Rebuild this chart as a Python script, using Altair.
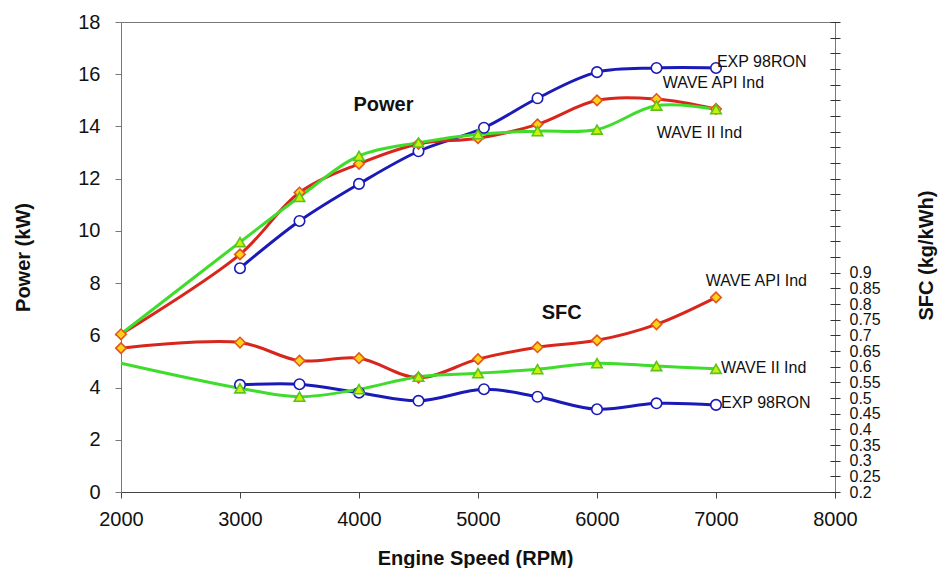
import altair as alt
import pandas as pd

SERIES = ["EXP 98RON", "WAVE API Ind", "WAVE II Ind"]
LINE_COLORS = ["#1a1ab8", "#d8261c", "#3fdc2c"]
MARK_SHAPES = ["circle", "diamond", "triangle-up"]
MARK_FILLS = ["#ffffff", "#ffd21a", "#c6f20a"]
MARK_STROKES = ["#1a1ab8", "#e2561a", "#5cc21e"]

# Engine speed (RPM)
rpm_exp = [3000, 3500, 4000, 4500, 5050, 5500, 6000, 6500, 7000]
rpm_wave = [2000, 3000, 3500, 4000, 4500, 5000, 5500, 6000, 6500, 7000]

# Power (kW)
power_exp = [8.57, 10.38, 11.8, 13.05, 13.95, 15.08, 16.08, 16.24, 16.24]
power_api = [6.04, 9.1, 11.47, 12.57, 13.33, 13.55, 14.08, 15.0, 15.05, 14.67]
power_ii = [6.05, 9.57, 11.3, 12.87, 13.38, 13.7, 13.82, 13.88, 14.8, 14.66]

# SFC (kg/kWh)
sfc_exp = [0.542, 0.544, 0.517, 0.491, 0.528, 0.504, 0.464, 0.483, 0.478]
sfc_api = [0.659, 0.677, 0.619, 0.627, 0.565, 0.624, 0.662, 0.684, 0.735, 0.821]
sfc_ii = [0.611, 0.531, 0.504, 0.528, 0.568, 0.579, 0.592, 0.611, 0.602, 0.593]

# Annotations
power_label_rpm = [7008, 6552, 6502]
power_label_val = [16.48, 15.65, 13.76]
sfc_label_rpm = [7042, 6913, 7042]
sfc_label_val = [0.483, 0.874, 0.595]
group_titles = ["Power", "SFC"]
group_title_rpm = [4206, 5703]
group_title_val = [14.84, 0.770]

x_ticks = [2000, 3000, 4000, 5000, 6000, 7000, 8000]
power_ticks = [0, 2, 4, 6, 8, 10, 12, 14, 16, 18]
sfc_ticks = [round(0.2 + 0.05 * i, 2) for i in range(31)]


def frame(rpm, vals, name):
    return pd.DataFrame({"rpm": rpm, "value": vals, "series": name})


power_df = pd.concat([frame(rpm_exp, power_exp, SERIES[0]),
                      frame(rpm_wave, power_api, SERIES[1]),
                      frame(rpm_wave, power_ii, SERIES[2])], ignore_index=True)
sfc_df = pd.concat([frame(rpm_exp, sfc_exp, SERIES[0]),
                    frame(rpm_wave, sfc_api, SERIES[1]),
                    frame(rpm_wave, sfc_ii, SERIES[2])], ignore_index=True)
power_lab = pd.DataFrame({"rpm": power_label_rpm, "value": power_label_val, "text": SERIES})
sfc_lab = pd.DataFrame({"rpm": sfc_label_rpm, "value": sfc_label_val, "text": SERIES})
power_tt = pd.DataFrame({"rpm": [group_title_rpm[0]], "value": [group_title_val[0]], "text": [group_titles[0]]})
sfc_tt = pd.DataFrame({"rpm": [group_title_rpm[1]], "value": [group_title_val[1]], "text": [group_titles[1]]})

FONT = "Liberation Sans"

X = alt.X("rpm:Q",
          scale=alt.Scale(domain=[2000, 8000], nice=False, zero=False),
          axis=alt.Axis(values=x_ticks, format="d", title="Engine Speed (RPM)", grid=False,
                        tickSize=6, tickColor="#444", domainColor="#444", labelFontSize=20,
                        labelPadding=11, labelFlush=False, labelColor="#111", labelFont=FONT,
                        titleFont=FONT, titleFontSize=20, titleFontWeight="bold",
                        titleColor="#111", titleBaseline="alphabetic", titleY=72, titleX=354))

YP = alt.Y("value:Q",
           scale=alt.Scale(domain=[0, 18], nice=False, zero=False),
           axis=alt.Axis(orient="left", values=power_ticks, format="d", title="Power (kW)",
                         grid=False, tickSize=6, tickColor="#777", domainColor="#777",
                         labelFontSize=20, labelPadding=15, labelColor="#111", labelFont=FONT,
                         titleFont=FONT, titleFontSize=20, titleFontWeight="bold",
                         titleColor="#111", titleAngle=270, titleBaseline="alphabetic",
                         titleAlign="center", titleX=-92, titleY=235))

YS = alt.Y("value:Q",
           scale=alt.Scale(domain=[0.2, 1.7], nice=False, zero=False),
           axis=alt.Axis(orient="right", values=sfc_ticks, format=".2~f",
                         labelExpr="datum.value <= 0.9001 ? datum.label : ''",
                         title="SFC (kg/kWh)", grid=False, domain=False, offset=-5,
                         tickSize=10, tickColor="#333", labelFontSize=16, labelPadding=9,
                         labelOverlap=False, labelColor="#111", labelFont=FONT,
                         titleFont=FONT, titleFontSize=20, titleFontWeight="bold",
                         titleColor="#111", titleAngle=270, titleBaseline="alphabetic",
                         titleAlign="center", titleX=102, titleY=233))

color = alt.Color("series:N", scale=alt.Scale(domain=SERIES, range=LINE_COLORS), legend=None)
shape = alt.Shape("series:N", scale=alt.Scale(domain=SERIES, range=MARK_SHAPES), legend=None)
fill = alt.Fill("series:N", scale=alt.Scale(domain=SERIES, range=MARK_FILLS), legend=None)
stroke = alt.Stroke("series:N", scale=alt.Scale(domain=SERIES, range=MARK_STROKES), legend=None)

marker_filter = "!(datum.series == 'WAVE II Ind' && datum.rpm == 2000)"


def group(df, Y, lab, tt):
    lines = alt.Chart(df).mark_line(interpolate="catmull-rom", strokeWidth=3).encode(
        x=X, y=Y, color=color)
    points = alt.Chart(df).transform_filter(marker_filter).mark_point(
        size=110, strokeWidth=1.6, opacity=1, filled=True).encode(
        x=X, y=Y, shape=shape, fill=fill, stroke=stroke)
    labels = alt.Chart(lab).mark_text(align="left", baseline="middle", fontSize=16,
                                      font=FONT, color="#111").encode(x=X, y=Y, text="text:N")
    titles = alt.Chart(tt).mark_text(align="center", baseline="middle", fontSize=20,
                                     fontWeight="bold", font=FONT, color="#111").encode(
        x=X, y=Y, text="text:N")
    return alt.layer(lines, points, labels, titles)


chart = alt.layer(group(power_df, YP, power_lab, power_tt),
                  group(sfc_df, YS, sfc_lab, sfc_tt)).resolve_scale(y="independent").properties(
    width=714, height=470,
    autosize=alt.AutoSizeParams(type="none"),
    padding={"left": 121, "top": 22, "right": 103, "bottom": 76},
    background="white",
).configure(font=FONT).configure_view(stroke="#777", strokeWidth=1)

chart.save("out.html", embed_options={"renderer": "svg", "actions": False})
